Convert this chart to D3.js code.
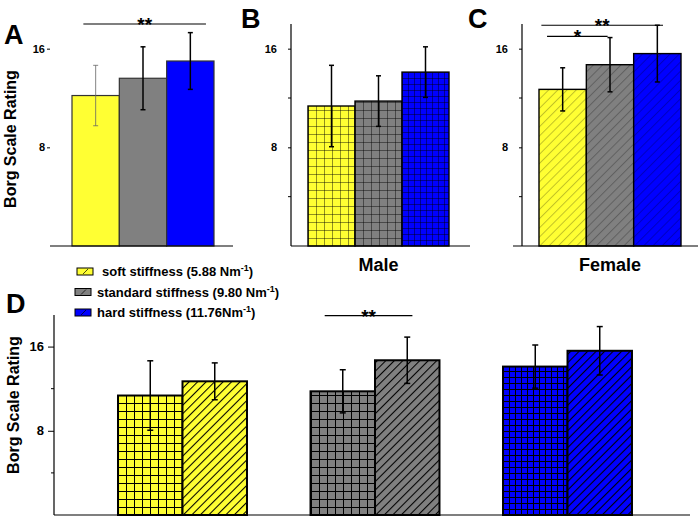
<!DOCTYPE html>
<html>
<head>
<meta charset="utf-8">
<script src="https://cdn.jsdelivr.net/npm/d3@7"></script>
<style>
  body { margin: 0; background: #fff; }
  text { font-family: "Liberation Sans", Arial, sans-serif; font-weight: bold; }
</style>
</head>
<body>
<div class="chart"></div>
<script>
// data
const stiffness = ['soft', 'standard', 'hard'];
const barColors = ['#ffff33', '#808080', '#0000ff'];
const allMean = [12.2, 13.6, 15.0];
const allErr = [2.45, 2.55, 2.3];
const maleMean = [11.35, 11.75, 14.1];
const maleErr = [3.3, 2.05, 2.05];
const femaleMean = [12.7, 14.7, 15.6];
const femaleErr = [1.75, 2.2, 2.3];
const sexes = ['Male', 'Female'];
const majorTicks = [8, 16];
const minorTicks = [4, 12];
const legendNames = ['soft stiffness (5.88 Nm', 'standard stiffness (9.80 Nm', 'hard stiffness (11.76Nm'];

const svg = d3.select('.chart').append('svg').attr('width', 700).attr('height', 517);
const defs = svg.append('defs');
let pid = 0;

function makePattern(type, color, x0, y0) {
  const id = 'pat' + (pid++);
  let p;
  if (type === 'grid' || type === 'dgrid') {
    const s = color === '#0000ff' ? 6 : 8;
    p = defs.append('pattern').attr('id', id).attr('patternUnits', 'userSpaceOnUse')
      .attr('width', s).attr('height', s)
      .attr('patternTransform', 'translate(' + Math.round(x0) + ',' + Math.round(y0) + ')');
    p.append('rect').attr('width', s).attr('height', s).attr('fill', color);
    p.append('path').attr('d', 'M0 0.5H' + s + 'M0.5 0V' + s)
      .attr('stroke', type === 'grid' ? 'rgba(0,0,0,0.55)' : '#000')
      .attr('stroke-width', type === 'grid' ? 0.8 : 1);
  } else {
    const s = type === 'hatch' ? 6.5 : 6;
    p = defs.append('pattern').attr('id', id).attr('patternUnits', 'userSpaceOnUse')
      .attr('width', s).attr('height', s)
      .attr('patternTransform', 'translate(' + x0 + ',' + y0 + ') rotate(45)');
    p.append('rect').attr('width', s).attr('height', s).attr('fill', color);
    p.append('path').attr('d', 'M0.5 0V' + s)
      .attr('stroke', type === 'hatch' ? 'rgba(0,0,0,0.4)' : '#000')
      .attr('stroke-width', type === 'hatch' ? 0.6 : 1.1);
  }
  return 'url(#' + id + ')';
}

function drawYAxis(g, y, ax, opt) {
  const axis = d3.axisLeft(y).tickValues(majorTicks).tickFormat(d3.format('d'))
    .tickSize(opt.tick).tickPadding(opt.pad);
  const a = g.append('g').attr('transform', 'translate(' + ax + ',0)').call(axis);
  a.selectAll('text').style('font-size', opt.font + 'px').attr('fill', '#000');
  a.selectAll('line').attr('stroke', '#000');
  a.select('.domain').remove();
  if (opt.line) {
    g.append('line').attr('x1', ax).attr('x2', ax)
      .attr('y1', y.range()[1]).attr('y2', y.range()[0])
      .attr('stroke', '#000').attr('stroke-width', 1.2);
    g.selectAll(null).data(minorTicks).enter().append('line')
      .attr('x1', ax - 3).attr('x2', ax).attr('y1', d => y(d)).attr('y2', d => y(d))
      .attr('stroke', '#000');
  }
}

function errorBars(g, x, y, means, errs, key, style) {
  const bw = x.bandwidth();
  means.forEach((m, i) => {
    const cx = x(key(i)) + bw / 2;
    const col = style.thin && i === 0 ? '#666' : '#000';
    const sw = style.thin && i === 0 ? 0.8 : 1.5;
    g.append('line').attr('x1', cx).attr('x2', cx).attr('y1', y(m + errs[i])).attr('y2', y(m - errs[i]))
      .attr('stroke', col).attr('stroke-width', sw);
    [m + errs[i], m - errs[i]].forEach(v => {
      g.append('line').attr('x1', cx - 2.5).attr('x2', cx + 2.5).attr('y1', y(v)).attr('y2', y(v))
        .attr('stroke', col).attr('stroke-width', sw);
    });
  });
}

function sigLine(g, x1, x2, yv, label) {
  g.append('line').attr('x1', x1).attr('x2', x2).attr('y1', yv).attr('y2', yv)
    .attr('stroke', '#000').attr('stroke-width', 1.2);
  g.append('text').attr('x', (x1 + x2) / 2).attr('y', yv + 7).attr('text-anchor', 'middle')
    .style('font-size', '19px').text(label);
}

// ---------- panels A, B, C ----------
const yTop = d3.scaleLinear().domain([0, 18]).range([246, 24]);

const topPanels = [
  { letter: 'A', lx: 4, ly: 44, means: allMean, errs: allErr, range: [72, 214], ax: 50, axisLine: false,
    base: [50, 233], pattern: null, title: null, thin: true },
  { letter: 'B', lx: 241, ly: 28, means: maleMean, errs: maleErr, range: [308, 449], ax: 291, axisLine: true,
    base: [291, 470], pattern: 'grid', title: sexes[0] },
  { letter: 'C', lx: 468, ly: 28, means: femaleMean, errs: femaleErr, range: [539, 681], ax: 522, axisLine: true,
    base: [513, 698], pattern: 'hatch', title: sexes[1] }
];

topPanels.forEach(p => {
  const g = svg.append('g');
  const x = d3.scaleBand().domain(stiffness).range(p.range).padding(0);
  g.selectAll(null).data(p.means).enter().append('rect')
    .attr('x', (d, i) => x(stiffness[i])).attr('y', d => yTop(d))
    .attr('width', x.bandwidth()).attr('height', d => yTop(0) - yTop(d))
    .attr('fill', (d, i) => p.pattern ? makePattern(p.pattern, barColors[i], x(stiffness[i]), yTop(0)) : barColors[i])
    .attr('stroke', p.pattern ? '#000' : '#333').attr('stroke-width', p.pattern ? 1.4 : 1.2);
  errorBars(g, x, yTop, p.means, p.errs, i => stiffness[i], { thin: p.thin });
  g.append('line').attr('x1', p.base[0]).attr('x2', p.base[1]).attr('y1', yTop(0)).attr('y2', yTop(0))
    .attr('stroke', '#000').attr('stroke-width', 1.2);
  drawYAxis(g, yTop, p.ax, { tick: 3, pad: p.axisLine ? 11 : 2, font: 11, line: p.axisLine });
  g.append('text').attr('x', p.lx).attr('y', p.ly).style('font-size', '27px').text(p.letter);
  if (p.title) {
    g.append('text').attr('x', (p.range[0] + p.range[1]) / 2).attr('y', 271)
      .attr('text-anchor', 'middle').style('font-size', '18px').text(p.title);
  }
  p.x = x;
});

svg.append('text').attr('transform', 'translate(16,139) rotate(-90)').attr('text-anchor', 'middle')
  .style('font-size', '16px').text('Borg Scale Rating');

// significance marks on top panels
{
  const xa = topPanels[0].x, bw = xa.bandwidth();
  sigLine(svg, xa('soft') + bw * 0.24, xa('hard') + bw * 0.83, yTop(18), '**');
  const xc = topPanels[2].x;
  sigLine(svg, xc('soft') + bw * 0.05, xc('hard') + bw * 0.62, yTop(17.9), '**');
  sigLine(svg, xc('soft') + bw * 0.17, xc('standard') + bw * 0.45, yTop(17.0), '*');
}

// ---------- panel D ----------
const yD = d3.scaleLinear().domain([0, 19]).range([515, 315]);
const xD = d3.scaleBand().domain(stiffness).range([86.25, 663.75]).paddingInner(0.33).paddingOuter(0.165);
const xSub = d3.scaleBand().domain(sexes).range([0, xD.bandwidth()]).padding(0);
const gD = svg.append('g');
const dMeans = [maleMean, femaleMean];
const dErrs = [maleErr, femaleErr];
const dTypes = ['dgrid', 'dhatch'];

stiffness.forEach((s, i) => {
  sexes.forEach((sx, j) => {
    const bx = xD(s) + xSub(sx);
    const v = dMeans[j][i];
    gD.append('rect').attr('x', bx).attr('y', yD(v))
      .attr('width', xSub.bandwidth()).attr('height', yD(0) - yD(v))
      .attr('fill', makePattern(dTypes[j], barColors[i], bx, yD(0)))
      .attr('stroke', '#000').attr('stroke-width', 2);
  });
});
stiffness.forEach((s, i) => {
  sexes.forEach((sx, j) => {
    const cx = xD(s) + xSub(sx) + xSub.bandwidth() / 2;
    const m = dMeans[j][i], e = dErrs[j][i];
    gD.append('line').attr('x1', cx).attr('x2', cx).attr('y1', yD(m + e)).attr('y2', yD(m - e))
      .attr('stroke', '#000').attr('stroke-width', 1.5);
    [m + e, m - e].forEach(v => {
      gD.append('line').attr('x1', cx - 3).attr('x2', cx + 3).attr('y1', yD(v)).attr('y2', yD(v))
        .attr('stroke', '#000').attr('stroke-width', 1.5);
    });
  });
});
gD.append('line').attr('x1', 54).attr('x2', 690).attr('y1', yD(0)).attr('y2', yD(0))
  .attr('stroke', '#000').attr('stroke-width', 1.2);
drawYAxis(gD, yD, 54, { tick: 6, pad: 4, font: 13, line: true });
gD.selectAll('.tick line').attr('stroke-width', 1);
gD.append('text').attr('x', 6).attr('y', 313).style('font-size', '27px').text('D');
svg.append('text').attr('transform', 'translate(19,405) rotate(-90)').attr('text-anchor', 'middle')
  .style('font-size', '16px').text('Borg Scale Rating');
{
  const bwS = xSub.bandwidth();
  sigLine(svg, xD('standard') + xSub('Male') + bwS * 0.22, xD('standard') + xSub('Female') + bwS * 0.58, yD(18.95), '**');
}

// legend
const leg = svg.append('g');
legendNames.forEach((name, i) => {
  const yy = 268 + i * 20.5;
  const sx = i === 0 ? 77 : 75;
  leg.append('rect').attr('x', sx).attr('y', yy).attr('width', 16).attr('height', 7)
    .attr('fill', barColors[i]).attr('stroke', '#000').attr('stroke-width', 1);
  leg.append('line').attr('x1', sx + 6).attr('x2', sx + 11).attr('y1', yy + 6).attr('y2', yy + 1)
    .attr('stroke', '#000').attr('stroke-width', 0.7);
  const t = leg.append('text').attr('x', sx + (i === 0 ? 25 : 22)).attr('y', yy + 8).style('font-size', '13px');
  t.append('tspan').text(name);
  t.append('tspan').attr('dy', -5).style('font-size', '9px').text('-1');
  t.append('tspan').attr('dy', 5).text(')');
});
</script>
</body>
</html>
